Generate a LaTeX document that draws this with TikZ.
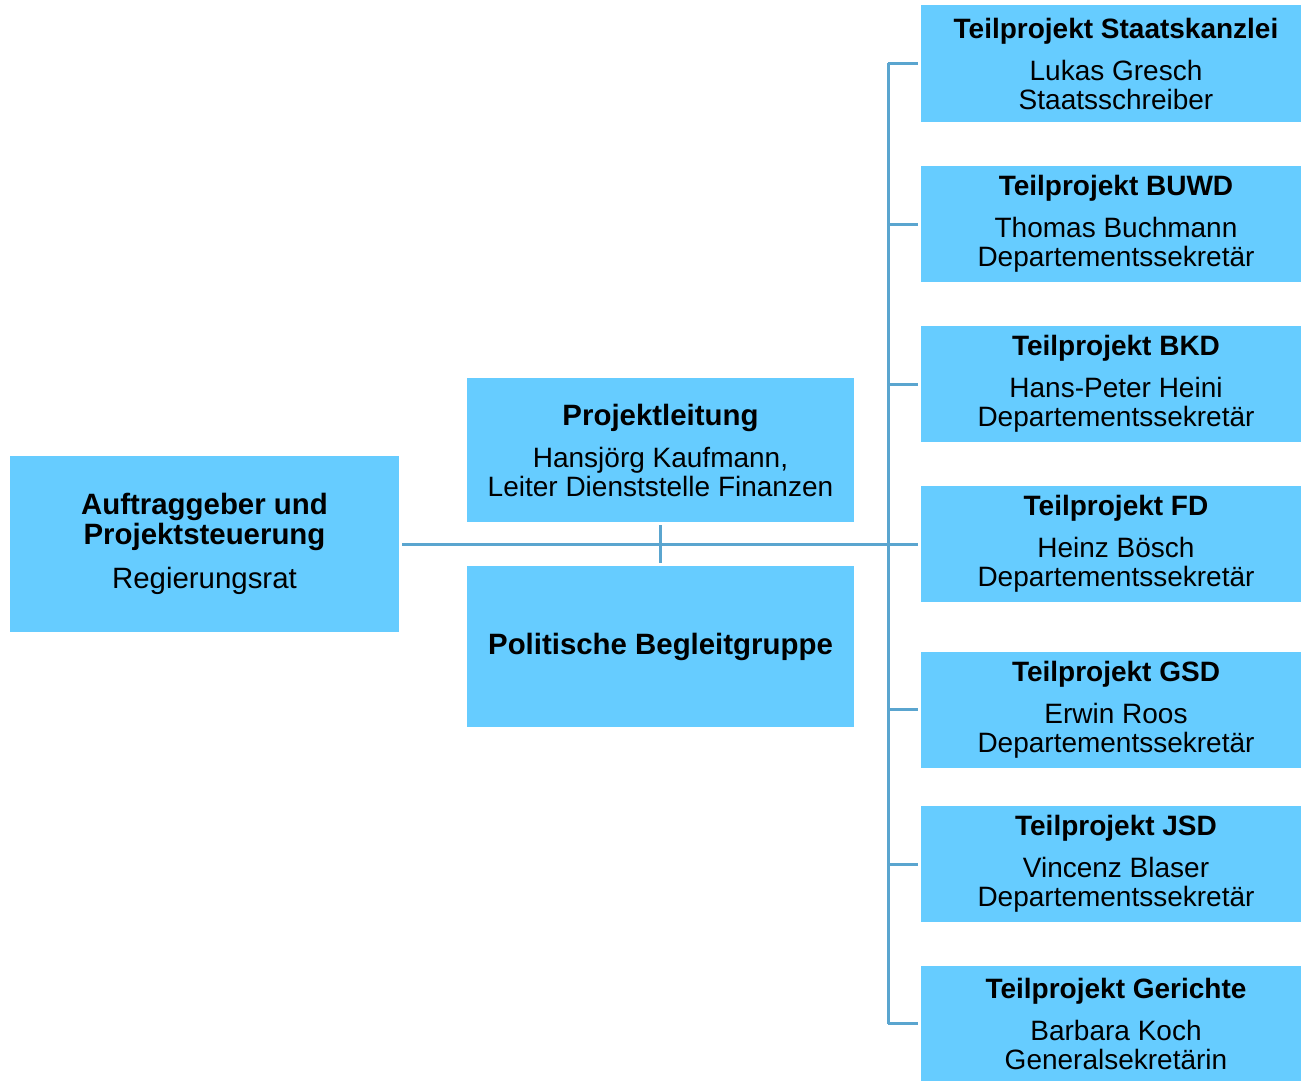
\documentclass[tikz,border=0pt]{standalone}
\usepackage{fontspec}
\setmainfont{Liberation Sans}
\definecolor{boxfill}{HTML}{66CCFF}
\definecolor{linecol}{HTML}{5AA5CF}
\begin{document}
\begin{tikzpicture}[x=1pt,y=-1pt,
  box/.style={fill=boxfill, draw=none, inner sep=0pt, align=center,
    font=\fontsize{28}{29}\selectfont},
  tpbox/.style={box, minimum width=390pt, minimum height=116pt},
  conn/.style={draw=linecol, line width=3pt}]
\useasboundingbox (0,0) rectangle (1301,1081);
\newcommand{\boxtext}[2]{\textbf{#1}\\[13pt]#2}
\newcommand{\bigbold}[1]{{\fontsize{29.4}{30}\selectfont\bfseries #1}}
% left
\node[box, minimum width=389pt, minimum height=176pt,
  font=\fontsize{29.4}{30}\selectfont] (auf) at (204.5,544)
  {\textbf{Auftraggeber und}\\\textbf{Projektsteuerung}\\[14pt]Regierungsrat};
% middle
\node[box, minimum width=387pt, minimum height=144pt] (pl) at (660.5,450)
  {\bigbold{Projektleitung}\\[13pt]Hansjörg Kaufmann,\\Leiter Dienststelle Finanzen};
\node[box, minimum width=387pt, minimum height=161pt] (pb) at (660.5,646.5)
  {\bigbold{Politische Begleitgruppe}};
% right
\node[tpbox] (tp1) at (1116,63.5) {\boxtext{Teilprojekt Staatskanzlei}{Lukas Gresch\\Staatsschreiber}};
\node[tpbox] (tp2) at (1116,224) {\boxtext{Teilprojekt BUWD}{Thomas Buchmann\\Departementssekretär}};
\node[tpbox] (tp3) at (1116,384) {\boxtext{Teilprojekt BKD}{Hans-Peter Heini\\Departementssekretär}};
\node[tpbox] (tp4) at (1116,544) {\boxtext{Teilprojekt FD}{Heinz Bösch\\Departementssekretär}};
\node[tpbox] (tp5) at (1116,709.5) {\boxtext{Teilprojekt GSD}{Erwin Roos\\Departementssekretär}};
\node[tpbox] (tp6) at (1116,864) {\boxtext{Teilprojekt JSD}{Vincenz Blaser\\Departementssekretär}};
\node[tpbox] (tp7) at (1116,1023.5) {\boxtext{Teilprojekt Gerichte}{Barbara Koch\\Generalsekretärin}};
% connectors
\coordinate (spine) at (888,0);
\draw[conn] (tp1.west -| spine) -- (tp7.west -| spine);
\foreach \t in {tp1,tp2,tp3,tp4,tp5,tp6,tp7}
  \draw[conn, shorten >=3pt] (\t.west -| spine) -- (\t.west);
\draw[conn, shorten <=3pt] (auf.east) -- (tp4.west -| spine);
\draw[conn, shorten <=3pt, shorten >=3pt] (pl.south) -- (pb.north);
\end{tikzpicture}
\end{document}
